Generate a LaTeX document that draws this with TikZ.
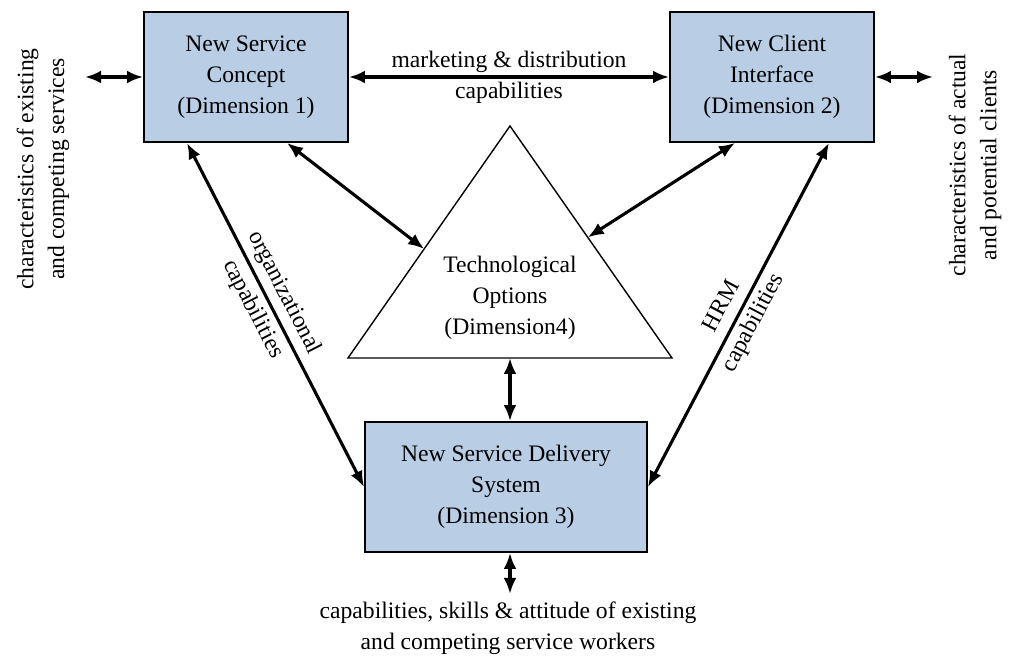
\documentclass[tikz,border=0pt]{standalone}
\usepackage{fontspec}
\setmainfont{Liberation Serif}
\usetikzlibrary{arrows.meta, positioning, calc}
\definecolor{dimblue}{RGB}{185,205,229}

\begin{document}
\begin{tikzpicture}[
        x=0.025cm, y=0.025cm,
        >={Latex[length=0.4cm, width=0.32cm]},
        every node/.style={font=\fontsize{16.8}{22}\selectfont, align=center},
        dimbox/.style={draw, line width=1.3pt, fill=dimblue, minimum height=3.25cm, inner sep=0pt},
        link/.style={<->, line width=2.2pt},
        linklabel/.style={sloped, font=\fontsize{16.8}{25}\selectfont},
        side/.style={rotate=90}
    ]
        \useasboundingbox (0,0) rectangle (1012,656);

        % The three dimension boxes
        \node [dimbox, minimum width=5.1cm] (concept) at (246,579) {New Service\\Concept\\(Dimension 1)};
        \node [dimbox, minimum width=5.1cm] (client) at (772,579) {New Client\\Interface\\(Dimension 2)};
        \node [dimbox, minimum width=7.05cm] (delivery) at (506,169) {New Service Delivery\\System\\(Dimension 3)};

        % Technology triangle
        \coordinate (apex) at (510,530);
        \coordinate (bl) at (348,298);
        \coordinate (br) at (672,298);
        \coordinate (base) at ($(bl)!0.5!(br)$);
        \draw[line width=1pt] (apex) -- (bl) -- (br) -- cycle;
        \node (tech) at (510,358) {Technological\\Options\\(Dimension4)};

        % Outside texts
        \node [side] (services) at (43,487) {characteristics of existing\\and competing services};
        \node [side] (clients) at (975,491) {characteristics of actual\\and potential clients};
        \coordinate (servicesend) at (85,579);
        \coordinate (clientsend) at (933,579);
        \coordinate (workersend) at (510,62);
        \node [anchor=north] (workers) at (508,59) {capabilities, skills \& attitude of existing\\and competing service workers};

        % Links between the dimensions
        \draw[link] (servicesend) -- (concept.west);
        \draw[link] (client.east) -- (clientsend);
        \draw[link] (concept.east) -- node (market) {marketing \& distribution\\capabilities} (client.west);
        \draw[link] ($(concept.south west)+(44,0)$) -- node[linklabel, pos=0.46] (orgcap) {organizational\\capabilities} (delivery.west);
        \draw[link] ($(client.south east)+(-46,0)$) -- node[linklabel, pos=0.5] (hrmcap) {HRM\\capabilities} (delivery.east);
        \draw[link] ($(concept.south)+(41,0)$) -- ($(apex)!0.53!(bl)$);
        \draw[link] ($(client.south)+(-37,0)$) -- ($(apex)!0.48!(br)$);
        \draw[link] (base) -- (base |- delivery.north);
        \draw[link] (delivery.south -| base) -- (workersend);
    \end{tikzpicture}
\end{document}
